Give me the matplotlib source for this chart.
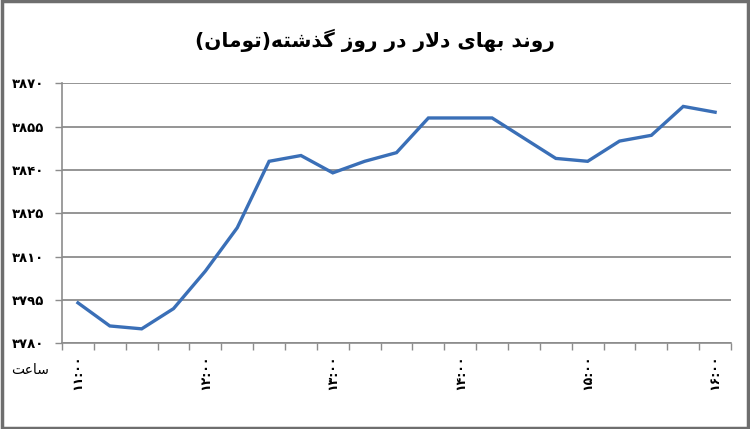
import numpy as np
import matplotlib
matplotlib.use('Agg')
import matplotlib.pyplot as plt
from matplotlib.patches import Rectangle

plt.rcParams['font.family'] = ['DejaVu Sans']

# price of dollar, one value every 15 minutes from 11:00 to 16:00
prices = [3794, 3786, 3785, 3792, 3805, 3820, 3843, 3845, 3839, 3843, 3846,
          3858, 3858, 3858, 3851, 3844, 3843, 3850, 3852, 3862, 3860]
hour_labels = ['11:00', '12:00', '13:00', '14:00', '15:00', '16:00']
hour_pos = [0, 4, 8, 12, 16, 20]
y_ticks = [3780, 3795, 3810, 3825, 3840, 3855, 3870]
title = 'روند بهای دلار در روز گذشته(تومان)'
x_name = 'ساعت'

# --- tiny persian shaper (matplotlib has no bidi / joining support) ---
FORMS = {  # isolated, final, initial, medial
    'ا': (0xFE8D, 0xFE8E), 'د': (0xFEA9, 0xFEAA), 'ذ': (0xFEAB, 0xFEAC),
    'ر': (0xFEAD, 0xFEAE), 'ز': (0xFEAF, 0xFEB0), 'و': (0xFEED, 0xFEEE),
    'ب': (0xFE8F, 0xFE90, 0xFE91, 0xFE92), 'ت': (0xFE95, 0xFE96, 0xFE97, 0xFE98),
    'س': (0xFEB1, 0xFEB2, 0xFEB3, 0xFEB4), 'ش': (0xFEB5, 0xFEB6, 0xFEB7, 0xFEB8),
    'ع': (0xFEC9, 0xFECA, 0xFECB, 0xFECC), 'ل': (0xFEDD, 0xFEDE, 0xFEDF, 0xFEE0),
    'م': (0xFEE1, 0xFEE2, 0xFEE3, 0xFEE4), 'ن': (0xFEE5, 0xFEE6, 0xFEE7, 0xFEE8),
    'ه': (0xFEE9, 0xFEEA, 0xFEEB, 0xFEEC), 'ی': (0xFBFC, 0xFBFD, 0xFBFE, 0xFBFF),
    'گ': (0xFB92, 0xFB93, 0xFB94, 0xFB95), 'LA': (0xFEFB, 0xFEFC),
}
FA_DIGITS = str.maketrans('0123456789', '۰۱۲۳۴۵۶۷۸۹')


def shape(text):
    chars = []
    i = 0
    while i < len(text):
        if text[i] == 'ل' and i + 1 < len(text) and text[i + 1] == 'ا':
            chars.append('LA')
            i += 2
        else:
            chars.append(text[i])
            i += 1
    out = []
    for k, c in enumerate(chars):
        if c not in FORMS:
            out.append(c)
            continue
        prev = chars[k - 1] if k > 0 else None
        nxt = chars[k + 1] if k + 1 < len(chars) else None
        join_prev = prev in FORMS and len(FORMS[prev]) == 4
        join_next = nxt in FORMS and len(FORMS[c]) == 4
        f = FORMS[c]
        if join_prev and join_next:
            code = f[3]
        elif join_prev:
            code = f[1]
        elif join_next:
            code = f[2]
        else:
            code = f[0]
        out.append(chr(code))
    vis = ''.join(reversed(out))
    return vis.translate(str.maketrans('()', ')('))


fig = plt.figure(figsize=(7.5, 4.29), dpi=100)
ax = fig.add_axes([0.0827, 0.1998, 0.8920, 0.6060])

x = np.arange(len(prices))
ax.plot(x, prices, color='#3A6FB7', lw=2.4, solid_joinstyle='miter')

ax.set_xlim(-0.5, len(prices) - 0.5)
ax.set_ylim(y_ticks[0], y_ticks[-1])
ax.set_yticks(y_ticks)
ax.set_yticklabels([str(v).translate(FA_DIGITS) for v in y_ticks],
                   fontsize=9.5, fontweight='bold')
ax.yaxis.grid(True, color='#8C8C8C', lw=1.3)
ax.set_axisbelow(True)

ax.set_xticks(np.arange(-0.5, len(prices), 1))
ax.set_xticklabels([])
ax.set_xticks(hour_pos, [h.translate(FA_DIGITS) for h in hour_labels], minor=True)
ax.tick_params(axis='x', which='minor', length=0, pad=8, labelrotation=90,
               labelsize=9)
for lbl in ax.get_xticklabels(minor=True):
    lbl.set_fontweight('bold')
ax.tick_params(axis='x', which='major', length=5, color='#8C8C8C', width=1)
ax.tick_params(axis='y', length=5, color='#8C8C8C', width=1, pad=8)

for s in ['top', 'right']:
    ax.spines[s].set_visible(False)
for s in ['left', 'bottom']:
    ax.spines[s].set_color('#8C8C8C')
    ax.spines[s].set_linewidth(1.2)

fig.text(0.5, 0.905, shape(title), ha='center', va='center',
         fontsize=14.5, fontweight='bold')
fig.text(0.066, 0.138, shape(x_name), ha='right', va='center', fontsize=10)

fig.patches.append(Rectangle((0.002, 0.003), 0.995, 0.994, transform=fig.transFigure,
                             fill=False, edgecolor='#6E6E6E', lw=2.5))

fig.savefig('out.png', dpi=100)
